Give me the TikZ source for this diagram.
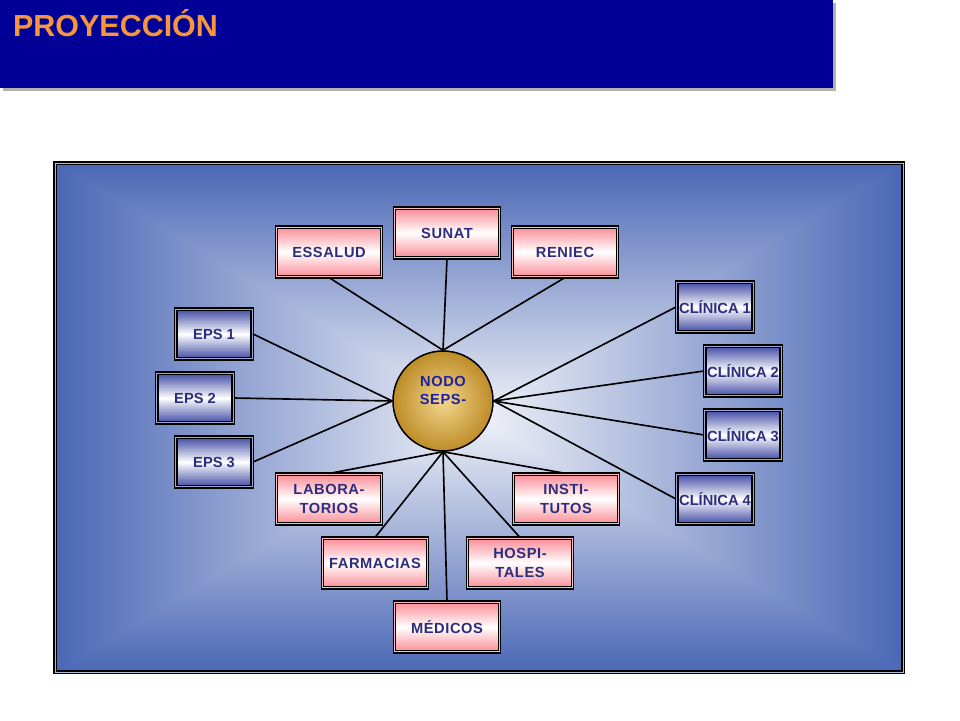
\documentclass[tikz,border=0pt]{standalone}
\usepackage{fontspec}
\setmainfont{Liberation Sans}
\newfontfamily\etiqfont[LetterSpace=4]{Liberation Sans}
\definecolor{barblue}{RGB}{0,0,150}
\definecolor{titleorange}{RGB}{245,150,60}
\definecolor{panelblue}{RGB}{74,103,181}
\definecolor{panellight}{RGB}{240,242,248}
\definecolor{boxpink}{RGB}{250,140,150}
\definecolor{boxblue}{RGB}{65,75,165}
\definecolor{textnavy}{RGB}{45,45,125}
\definecolor{goldout}{RGB}{190,140,40}
\definecolor{goldin}{RGB}{242,215,140}

\tikzset{
  entidad/.style={draw=black, line width=1.2pt, double=boxpink!60, double distance=0.8pt,
    top color=boxpink, bottom color=boxpink, middle color=white,
    minimum width=3.15cm, minimum height=1.49cm, inner sep=1pt,
    font=\etiqfont\bfseries\fontsize{12.5}{15.5}\selectfont, text=textnavy, align=center},
  clinica/.style={entidad, double=boxblue!50, top color=boxblue, bottom color=boxblue,
    middle color=white, minimum width=2.3cm, font=\bfseries\fontsize{12.5}{15.5}\selectfont},
  enlace/.style={line width=1.4pt}
}

\begin{document}
\begin{tikzpicture}[x=0.03cm,y=-0.03cm]
	\useasboundingbox[fill=white] (0,0) rectangle (960,720);
	% title
	\fill[gray!60] (3,3) rectangle (836,91);
	\fill[barblue] (0,0) rectangle (833,88);
	\node[anchor=base west,text=titleorange,font=\bfseries\fontsize{26}{30}\selectfont] (titulo) at (9,36) {PROYECCIÓN};
	% panel
	\shade[left color=panelblue,right color=panellight] (54,162) rectangle (479,673);
	\shade[left color=panellight,right color=panelblue] (479,162) rectangle (904,673);
	\shade[top color=panelblue,bottom color=panellight] (54,162)--(904,162)--(479,417)--cycle;
	\shade[top color=panellight,bottom color=panelblue] (54,673)--(904,673)--(479,417)--cycle;
	\draw[line width=1.1pt,double=panelblue!45,double distance=0.8pt] (55,163) rectangle (903,672);
	% nodes
	\node[circle,draw=black,line width=1.3pt,minimum size=3cm,inner color=goldin,outer color=goldout,
		font=\etiqfont\bfseries\fontsize{12.5}{15.5}\selectfont,text=textnavy!70!blue] (nodo) at (443,401)
		{\raisebox{4.5pt}[0pt][0pt]{\begin{tabular}{@{}c@{}}NODO\\SEPS-\end{tabular}}};
	\node[entidad] (sunat) at (447,233) {SUNAT};
	\node[entidad] (essalud) at (329,252) {ESSALUD};
	\node[entidad] (reniec) at (565,252) {RENIEC};
	\node[entidad] (labor) at (329,499) {LABORA-\\TORIOS};
	\node[entidad] (insti) at (566,499) {INSTI-\\TUTOS};
	\node[entidad] (farm) at (375,563) {FARMACIAS};
	\node[entidad] (hosp) at (520,563) {HOSPI-\\TALES};
	\node[entidad] (medic) at (447,627) {MÉDICOS};
	\node[clinica] (eps1) at (214,334) {EPS 1};
	\node[clinica] (eps2) at (195,398) {EPS 2};
	\node[clinica] (eps3) at (214,462) {EPS 3};
	\node[clinica] (cli1) at (715,307) {CLÍNICA 1};
	\node[clinica] (cli2) at (743,371) {CLÍNICA 2};
	\node[clinica] (cli3) at (743,435) {CLÍNICA 3};
	\node[clinica] (cli4) at (715,499) {CLÍNICA 4};
	% links
	\foreach \n in {essalud,sunat,reniec}\draw[enlace] (\n.south)--(nodo.north);
	\foreach \n in {eps1,eps2,eps3}\draw[enlace] (\n.east)--(nodo.west);
	\foreach \n in {cli1,cli2,cli3,cli4}\draw[enlace] (\n.west)--(nodo.east);
	\foreach \n in {labor,farm,medic,hosp,insti}\draw[enlace] (\n.north)--(nodo.south);
\end{tikzpicture}
\end{document}
